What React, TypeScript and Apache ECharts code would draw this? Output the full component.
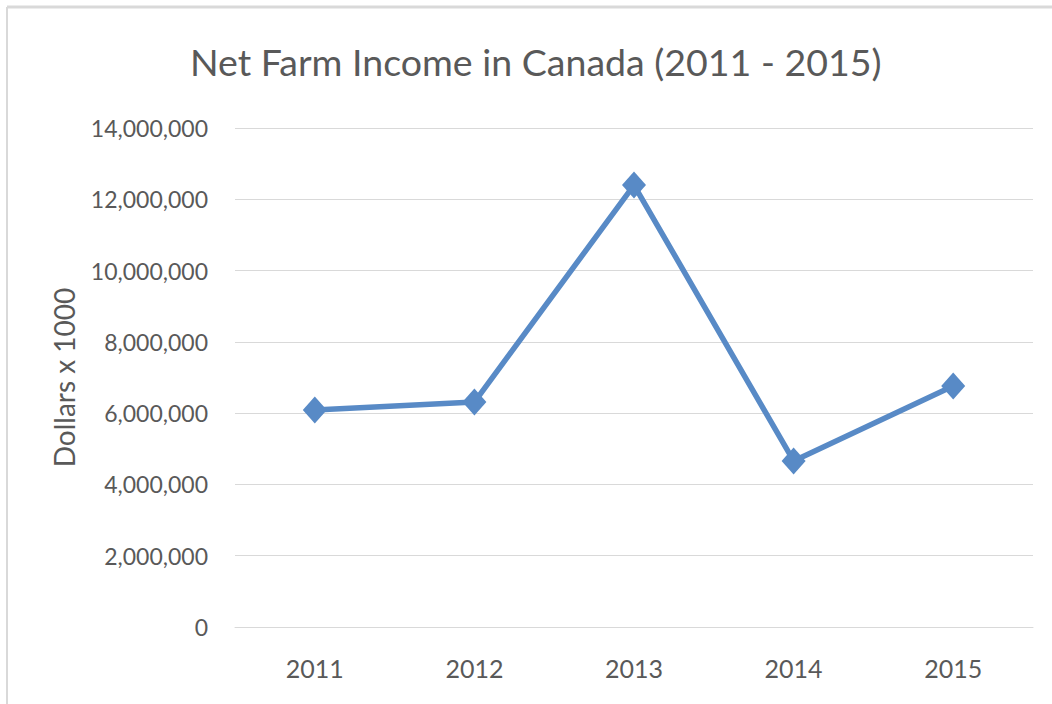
import React, { useEffect, useRef } from "react";
import * as echarts from "echarts";

const years = ["2011", "2012", "2013", "2014", "2015"];
const netIncome = [6090000, 6310000, 12400000, 4660000, 6760000];
const titleText = "Net Farm Income in Canada (2011 - 2015)";
const yAxisName = "Dollars x 1000";

const FONT = "Lato, 'Open Sans', sans-serif";
const TEXT = "#595959";

export default function App() {
  const ref = useRef<HTMLDivElement>(null);
  useEffect(() => {
    document.body.style.margin = "0";
    const chart = echarts.init(ref.current!, null, { renderer: "svg" });
    chart.setOption({
      animation: false,
      backgroundColor: "#ffffff",
      title: {
        text: titleText,
        left: 185,
        top: 37,
        textStyle: { fontFamily: FONT, fontSize: 37.5, fontWeight: "normal", color: TEXT },
      },
      graphic: [
        { type: "line", shape: { x1: 7, y1: 7, x2: 1052, y2: 7 }, style: { stroke: "#d9d9d9", lineWidth: 3 } },
        { type: "line", shape: { x1: 7, y1: 7, x2: 7, y2: 704 }, style: { stroke: "#d9d9d9", lineWidth: 2 } },
      ],
      grid: { left: 235, right: 19, top: 128, bottom: 77, containLabel: false },
      xAxis: {
        type: "category",
        data: years,
        boundaryGap: true,
        axisLine: { show: true, lineStyle: { color: "#d9d9d9", width: 1 } },
        axisTick: { show: false },
        axisLabel: { fontFamily: FONT, fontSize: 25, color: TEXT, margin: 28 },
      },
      yAxis: {
        type: "value",
        min: 0,
        max: 14000000,
        interval: 2000000,
        name: yAxisName,
        nameLocation: "middle",
        nameGap: 157,
        nameRotate: 90,
        nameTextStyle: { fontFamily: FONT, fontSize: 28, color: TEXT },
        axisLine: { show: false },
        axisTick: { show: false },
        axisLabel: {
          fontFamily: FONT,
          fontSize: 23,
          color: TEXT,
          margin: 27,
          formatter: (v: number) => v.toLocaleString("en-US"),
        },
        splitLine: { lineStyle: { color: "#d9d9d9", width: 1 } },
      },
      series: [
        {
          type: "line",
          data: netIncome,
          symbol: "diamond",
          symbolSize: [24, 27],
          lineStyle: { color: "#588ac6", width: 5.5 },
          itemStyle: { color: "#588ac6" },
        },
      ],
    });
    return () => chart.dispose();
  }, []);
  return <div ref={ref} style={{ width: 1052, height: 704 }} />;
}
